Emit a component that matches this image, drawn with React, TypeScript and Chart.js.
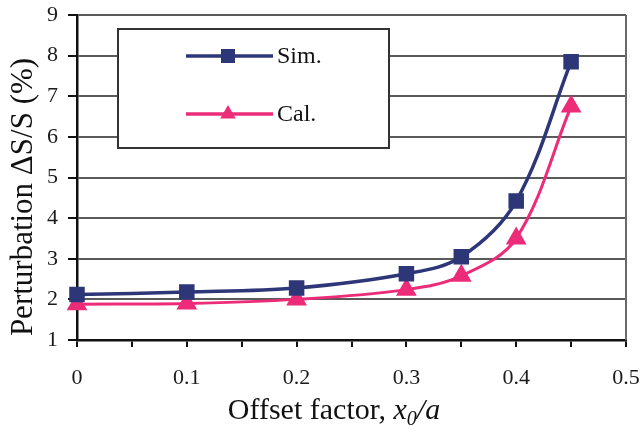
import React, { useEffect, useRef } from 'react';
import { Chart, registerables } from 'chart.js';

Chart.register(...registerables);

const xValues = [0, 0.1, 0.2, 0.3, 0.35, 0.4, 0.45];
const simValues = [2.12, 2.18, 2.28, 2.63, 3.05, 4.42, 7.85];
const calValues = [1.88, 1.9, 2.0, 2.24, 2.58, 3.5, 6.75];
const xTickLabels = ['0', '0.1', '0.2', '0.3', '0.4', '0.5'];
const seriesNames = ['Sim.', 'Cal.'];
const seriesColors = ['#2d3778', '#ec2c78'];
const yTitle = 'Perturbation \u0394S/S (%)';
const xTitleMain = 'Offset factor, ';

const FONT = '"Liberation Serif", "Times New Roman", serif';

const decorPlugin = {
  id: 'decor',
  afterDraw(chart: any) {
    const { ctx, chartArea } = chart;
    ctx.save();
    // right border
    ctx.strokeStyle = '#6a6a6a';
    ctx.lineWidth = 2;
    ctx.beginPath();
    ctx.moveTo(chartArea.right, chartArea.top);
    ctx.lineTo(chartArea.right, chartArea.bottom);
    ctx.stroke();

    // legend box
    const bx = 118, by = 29, bw = 271, bh = 119;
    ctx.fillStyle = '#ffffff';
    ctx.fillRect(bx, by, bw, bh);
    ctx.strokeStyle = '#333333';
    ctx.lineWidth = 2;
    ctx.strokeRect(bx, by, bw, bh);

    const rows = [56, 114];
    rows.forEach((ry, i) => {
      ctx.strokeStyle = seriesColors[i];
      ctx.lineWidth = 3.5;
      ctx.beginPath();
      ctx.moveTo(186, ry);
      ctx.lineTo(273, ry);
      ctx.stroke();
      ctx.fillStyle = seriesColors[i];
      if (i === 0) {
        ctx.fillRect(228 - 7, ry - 7, 14, 14);
      } else {
        const r = 9;
        ctx.beginPath();
        ctx.moveTo(228, ry - r);
        ctx.lineTo(228 + r * 0.866, ry + r / 2);
        ctx.lineTo(228 - r * 0.866, ry + r / 2);
        ctx.closePath();
        ctx.fill();
      }
      ctx.fillStyle = '#111';
      ctx.font = `24px ${FONT}`;
      ctx.textAlign = 'left';
      ctx.textBaseline = 'middle';
      ctx.fillText(seriesNames[i], 277, ry + 1);
    });

    // y title
    ctx.save();
    ctx.translate(24, 197);
    ctx.rotate(-Math.PI / 2);
    ctx.font = `31px ${FONT}`;
    ctx.fillStyle = '#111';
    ctx.textAlign = 'center';
    ctx.textBaseline = 'middle';
    ctx.fillText(yTitle, 0, 0);
    ctx.restore();

    // x title with italic parts
    const regular = `30px ${FONT}`;
    const italic = `italic 30px ${FONT}`;
    const italicSub = `italic 20px ${FONT}`;
    const parts = [
      { t: xTitleMain, f: regular, dy: 0 },
      { t: 'x', f: italic, dy: 0 },
      { t: '0', f: italicSub, dy: 6 },
      { t: '/', f: italic, dy: 0 },
      { t: 'a', f: italic, dy: 0 },
    ];
    let total = 0;
    parts.forEach((p) => {
      ctx.font = p.f;
      total += ctx.measureText(p.t).width;
    });
    let x = 334 - total / 2;
    const baseY = 419;
    ctx.fillStyle = '#111';
    ctx.textAlign = 'left';
    ctx.textBaseline = 'alphabetic';
    parts.forEach((p) => {
      ctx.font = p.f;
      ctx.fillText(p.t, x, baseY + p.dy);
      x += ctx.measureText(p.t).width;
    });
    ctx.restore();
  },
};

export default function App() {
  const ref = useRef<HTMLCanvasElement>(null);
  useEffect(() => {
    if (!ref.current) return;
    const mk = (vals: number[]) => xValues.map((x, i) => ({ x, y: vals[i] }));
    const chart = new Chart(ref.current, {
      type: 'line',
      data: {
        datasets: [
          {
            label: seriesNames[0],
            data: mk(simValues),
            borderColor: seriesColors[0],
            backgroundColor: seriesColors[0],
            borderWidth: 3.5,
            pointStyle: 'rect',
            pointRadius: 8.5,
            pointHoverRadius: 8.5,
            tension: 0.35,
            clip: false as any,
          },
          {
            label: seriesNames[1],
            data: mk(calValues),
            borderColor: seriesColors[1],
            backgroundColor: seriesColors[1],
            borderWidth: 3,
            pointStyle: 'triangle',
            pointRadius: 9,
            pointHoverRadius: 9,
            tension: 0.35,
            clip: false as any,
          },
        ],
      },
      options: {
        responsive: false,
        animation: false,
        events: [],
        layout: { padding: { left: 0, top: 15, right: 18, bottom: 0 } },
        plugins: { legend: { display: false }, tooltip: { enabled: false } },
        scales: {
          x: {
            type: 'linear',
            min: 0,
            max: 0.5,
            afterFit(scale: any) {
              scale.height = 90;
              scale.paddingLeft = 0;
              scale.paddingRight = 0;
            },
            ticks: {
              stepSize: 0.05,
              autoSkip: false,
              maxRotation: 0,
              padding: 18,
              color: '#1a1a1a',
              font: { family: FONT, size: 22 },
              callback: (v: any) => {
                const k = Math.round(Number(v) * 20);
                return k % 2 === 0 ? xTickLabels[k / 2] : '';
              },
            },
            grid: {
              drawOnChartArea: false,
              drawTicks: true,
              tickLength: 7,
              tickColor: '#111',
              lineWidth: 2,
            },
            border: { display: true, color: '#111', width: 2.5 },
          },
          y: {
            min: 1,
            max: 9,
            afterFit(scale: any) {
              scale.width = 77;
              scale.paddingTop = 0;
              scale.paddingBottom = 0;
            },
            ticks: {
              stepSize: 1,
              padding: 10,
              color: '#1a1a1a',
              font: { family: FONT, size: 22 },
            },
            grid: {
              color: '#5a5a5a',
              lineWidth: 2,
              tickLength: 9,
              tickColor: '#111',
            },
            border: { display: true, color: '#111', width: 2.5 },
          },
        },
      },
      plugins: [decorPlugin],
    });
    return () => chart.destroy();
  }, []);
  return (
    <div style={{ position: 'absolute', left: 0, top: 0, width: 644, height: 430, background: '#fff' }}>
      <canvas ref={ref} width={644} height={430} style={{ width: 644, height: 430 }} />
    </div>
  );
}
